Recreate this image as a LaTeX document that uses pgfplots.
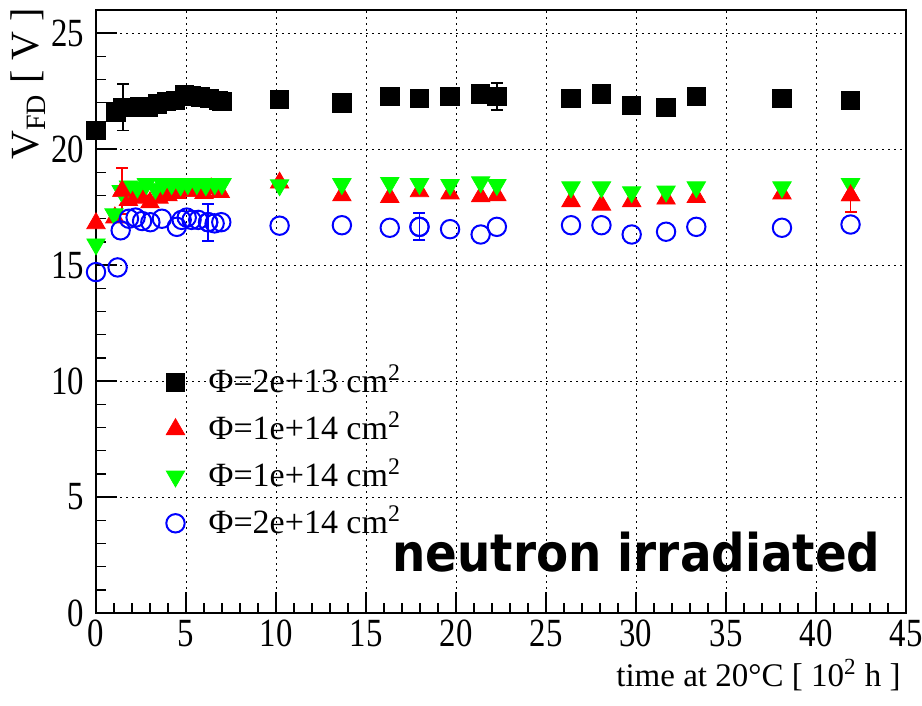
\documentclass[border=0pt]{standalone}
\usepackage{fontspec}
\setmainfont{Liberation Serif}
\newfontfamily\tickfont{Liberation Serif}[FakeStretch=0.82]
\newfontfamily\tagfont{DejaVu Sans}[FakeStretch=0.9]
\usepackage{pgfplots}
\usepackage{pgfplotstable}
\pgfplotsset{compat=1.18}

% full depletion voltage vs. annealing time, four fluences
\pgfplotstableread{
x y
0.0 20.8
1.1 21.6
1.5 21.8
1.9 21.8
2.4 21.85
2.9 21.8
3.4 21.95
3.9 22.05
4.4 22.1
4.9 22.35
5.3 22.3
5.8 22.25
6.3 22.2
6.8 22.1
7.0 22.05
10.2 22.15
13.66 22.0
16.32 22.28
17.97 22.19
19.67 22.28
21.37 22.38
22.27 22.28
26.39 22.19
28.08 22.38
29.76 21.89
31.67 21.81
33.35 22.28
38.11 22.19
41.92 22.09
}\fluA
\pgfplotstableread{
x y e
1.5 21.8 1.0
22.27 22.28 0.58
}\fluAerr

\pgfplotstableread{
x y
0.0 16.8
1.05 17.05
1.45 18.2
1.8 17.8
2.2 18.0
2.6 17.9
3.0 17.7
3.5 17.9
4.0 18.0
4.5 18.1
5.0 18.2
5.5 18.2
6.0 18.1
6.4 18.3
6.9 18.15
10.2 18.55
13.66 18.0
16.32 17.93
17.97 18.18
19.67 18.08
21.37 17.96
22.27 18.0
26.39 17.75
28.08 17.6
29.76 17.75
31.67 17.86
33.35 17.93
38.11 18.08
41.92 18.0
}\fluB
\pgfplotstableread{
x y e
1.45 18.2 1.0
41.92 18.0 0.7
}\fluBerr

\pgfplotstableread{
x y
0.0 15.9
1.0 17.2
1.4 18.2
1.8 18.4
2.3 18.35
2.8 18.5
3.3 18.3
3.7 18.5
4.2 18.5
4.7 18.45
5.1 18.5
5.6 18.5
6.1 18.45
6.6 18.5
7.0 18.5
10.2 18.45
13.66 18.5
16.32 18.55
17.97 18.5
19.67 18.46
21.37 18.58
22.27 18.46
26.39 18.36
28.08 18.36
29.76 18.15
31.67 18.18
33.35 18.36
38.11 18.36
41.92 18.5
}\fluC

\pgfplotstableread{
x y
0.0 14.7
1.2 14.9
1.37 16.5
1.83 17.0
2.2 17.05
2.56 16.9
3.02 16.85
3.66 17.0
4.49 16.65
4.76 16.95
5.04 17.05
5.31 16.95
5.68 16.95
6.23 16.85
6.59 16.8
6.96 16.85
10.2 16.7
13.66 16.72
16.32 16.61
17.97 16.65
19.67 16.55
21.37 16.32
22.27 16.65
26.39 16.72
28.08 16.72
29.76 16.32
31.67 16.44
33.35 16.65
38.11 16.61
41.92 16.75
}\fluD
\pgfplotstableread{
x y e
6.23 16.85 0.8
17.97 16.65 0.58
}\fluDerr

\begin{document}
\begin{tikzpicture}
\begin{axis}[
  at={(48pt,46.5pt)}, anchor=south west,
  scale only axis, width=405pt, height=301.5pt,
  xmin=0, xmax=45, ymin=0, ymax=26,
  xtick={0,5,...,45}, ytick={0,5,...,25},
  minor x tick num=4, minor y tick num=4,
  tick pos=left, tick align=inside,
  major tick length=10.5pt, minor tick length=5pt,
  every tick/.style={black, line width=0.7pt},
  grid=major,
  major grid style={black, line width=0.5pt, dash pattern=on 1.2pt off 1.8pt},
  axis line style={line width=0.9pt},
  /pgf/number format/assume math mode=true,
  ticklabel style={font=\tickfont\fontsize{20}{21}\selectfont},
  yticklabel style={xshift=-2.5pt},
  xlabel={time at 20°C [ 10\textsuperscript{2} h ]},
  ylabel={V\textsubscript{FD} [ V ]},
  every axis x label/.style={at={(axis description cs:0.9938,-0.1227)}, anchor=base east, font=\fontsize{16.5}{18}\selectfont, inner sep=0pt},
  every axis y label/.style={at={(axis description cs:-0.0837,1.0033)}, anchor=east, rotate=90, font=\fontsize{20}{22}\selectfont, inner sep=0pt},
  legend cell align=left,
  legend style={draw=none, fill=none, at={(axis cs:3.55,11.15)}, anchor=north west,
    font=\fontsize{17}{19}\selectfont, row sep=0pt,
    nodes={inner sep=0pt, text height=17pt, text depth=6.5pt},
    /tikz/every odd column/.append style={column sep=12pt}},
  every mark/.append style={yscale=1.15},
  error bars/error mark=|,
  error bars/error bar style={line width=0.8pt},
  error bars/error mark options={mark size=3pt, line width=0.9pt},
]
\addplot[only marks, mark=square*, mark size=4.6pt, black] table[x=x,y=y] {\fluA};
\addlegendentry{Φ=2e+13 cm\textsuperscript{2}}
\addplot[only marks, mark=triangle*, mark size=5.3pt, red] table[x=x,y=y] {\fluB};
\addlegendentry{Φ=1e+14 cm\textsuperscript{2}}
\addplot[only marks, mark=triangle*, mark size=5.3pt, green, mark options={rotate=180}] table[x=x,y=y] {\fluC};
\addlegendentry{Φ=1e+14 cm\textsuperscript{2}}
\addplot[only marks, mark=o, mark size=4.6pt, blue, line width=1pt] table[x=x,y=y] {\fluD};
\addlegendentry{Φ=2e+14 cm\textsuperscript{2}}

\addplot[forget plot, only marks, mark=square*, mark size=4.6pt, black,
  error bars/.cd, y dir=both, y explicit] table[x=x,y=y,y error=e] {\fluAerr};
\addplot[forget plot, only marks, mark=triangle*, mark size=5.3pt, red,
  error bars/.cd, y dir=both, y explicit] table[x=x,y=y,y error=e] {\fluBerr};
\addplot[forget plot, only marks, mark=o, mark size=4.6pt, blue, line width=1pt,
  error bars/.cd, y dir=both, y explicit] table[x=x,y=y,y error=e] {\fluDerr};

\node[anchor=base east, inner sep=0pt, font=\tagfont\bfseries\fontsize{26}{28}\selectfont]
  at (axis cs:43.6,1.77) {neutron irradiated};
\end{axis}
\pgfresetboundingbox
\path[use as bounding box] (0,0) rectangle (461pt,353pt);
\end{tikzpicture}
\end{document}
